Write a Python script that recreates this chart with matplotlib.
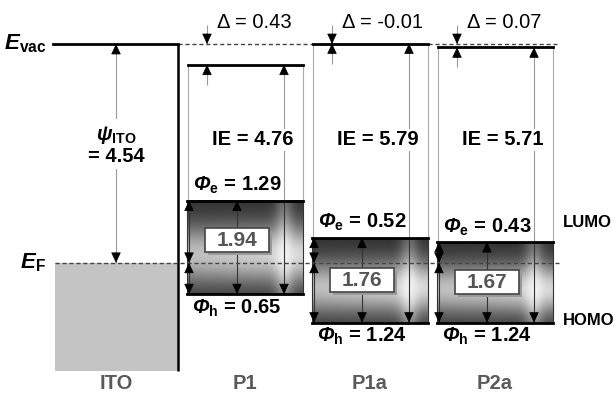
import numpy as np
import matplotlib.pyplot as plt
from matplotlib.patches import Rectangle

plt.rcParams['font.family'] = ['Liberation Sans', 'DejaVu Sans']
plt.rcParams['mathtext.fontset'] = 'custom'
plt.rcParams['mathtext.rm'] = 'Liberation Sans'
plt.rcParams['mathtext.bf'] = 'Liberation Sans:bold'
plt.rcParams['mathtext.bfit'] = 'Liberation Sans:italic:bold'

# energies in eV, vacuum level of ITO = 0
psi_ito = 4.54
materials = ['P1', 'P1a', 'P2a']
delta = [0.43, -0.01, 0.07]
ie = [4.76, 5.79, 5.71]
phi_e = [1.29, 0.52, 0.43]
phi_h = [0.65, 1.24, 1.24]
gap = [1.94, 1.76, 1.67]

EF = -psi_ito
PX = 1 / 48.2  # eV per pixel

fig = plt.figure(figsize=(6.14, 3.94), dpi=100)
ax = fig.add_axes([0, 0, 1, 1])
ax.set_xlim(0, 614)
ax.set_ylim(-350 * PX, 44 * PX)
ax.axis('off')


def head(x, y_tip, up, z=6):
    d = 10 * PX if up else -10 * PX
    ax.annotate('', xy=(x, y_tip), xytext=(x, y_tip - d),
                arrowprops=dict(arrowstyle='-|>,head_length=0.6,head_width=0.28', color='black', lw=0.5,
                                shrinkA=0, shrinkB=0, mutation_scale=11),
                zorder=z)


def vline(x, y1, y2, color, z=3, lw=0.8):
    ax.plot([x, x], [y1, y2], color=color, lw=lw, zorder=z, solid_capstyle='butt')


# ITO
ito_l, ito_r = 55, 178
ito_bot = -327 * PX
ax.add_patch(Rectangle((ito_l, ito_bot), ito_r - ito_l, EF - ito_bot, color='#c4c4c4', lw=0, zorder=1))
ax.plot([53, ito_r], [0, 0], color='black', lw=2, zorder=5)
vline(ito_r, 0, ito_bot, 'black', z=5, lw=1.8)
ax.plot([ito_r, 557], [0, 0], color='#444444', lw=1, ls=(0, (3, 2)), zorder=4)

# psi arrow
vline(116, EF, 0, '#999999', z=2)
head(116, 0, True)
head(116, EF, False)
ax.text(116, -101 * PX, r'$\mathbfit{\psi}_{\mathbf{ITO}}$' + '\n= 4.54', ha='center', va='center',
        fontsize=14.5, fontweight='bold', linespacing=1.1,
        bbox=dict(facecolor='white', edgecolor='none', pad=2), zorder=7)

# box texture: dark top/bottom, bright stripe near the right side
s = np.linspace(0, 1, 240)[None, :]
t = np.linspace(0, 1, 160)[:, None]
v = np.exp(-((t - 0.58) / 0.32) ** 2)
a = 0.18 + 0.66 * v * (0.85 + 0.15 * s)
b = 0.7 * np.exp(-((s - 0.84) / 0.08) ** 2) * (0.35 + 0.65 * v)
tex = np.clip(1 - (1 - a) * (1 - b), 0, 0.95)

box_left = [187, 312, 437]
box_w = 116

for i, name in enumerate(materials):
    x0 = box_left[i]
    vac = -delta[i]
    lumo = EF + phi_e[i]
    homo = EF - phi_h[i]
    xm = x0 + 50
    xr = x0 + 97
    xd = x0 + 20

    ax.imshow(tex, cmap='gray', vmin=0, vmax=1, extent=[x0, x0 + box_w, homo, lumo],
              aspect='auto', interpolation='bilinear', zorder=2)
    ax.add_patch(Rectangle((x0, homo), box_w, lumo - homo, fill=False, ec='#333333', lw=0.8, zorder=3))
    ax.plot([x0, x0 + box_w], [lumo, lumo], color='black', lw=2, zorder=4)
    ax.plot([x0, x0 + box_w], [homo, homo], color='black', lw=2, zorder=4)
    ax.plot([x0 + 1, x0 + box_w], [vac, vac], color='black', lw=2, zorder=5)

    # box outline above the band
    vline(x0 + 1, vac, lumo, '#aaaaaa', z=1)
    vline(x0 + box_w, vac, lumo, '#aaaaaa', z=1)

    # delta arrows
    vline(xd, 19 * PX, 0, '#999999', z=2)
    head(xd, 0, False)
    vline(xd, vac - 20 * PX, vac, '#999999', z=2)
    head(xd, vac, True)
    ax.text(xd + 10, 21 * PX, '\u0394 = %.2f' % delta[i], ha='left', va='center', fontsize=14.5)

    # IE arrow
    vline(xr, vac, lumo, '#999999', z=1)
    vline(xr, lumo, homo, '#333333', z=3)
    head(xr, vac, True)
    head(xr, homo, False)
    ax.text(x0 + 65.5, -96 * PX, 'IE = %.2f' % ie[i], ha='center', va='center', fontsize=14.5,
            fontweight='bold', bbox=dict(facecolor='white', edgecolor='none', pad=1), zorder=7)

    # phi_e / phi_h arrows
    vline(x0 + 2, lumo, homo, '#333333', z=3)
    head(x0 + 2, lumo, True)
    head(x0 + 2, EF, False)
    head(x0 + 2, EF, True)
    head(x0 + 2, homo, False)
    ax.text(xm, lumo + 15 * PX, r'$\mathbfit{\Phi}_{\mathbf{e}}$' + ' = %.2f' % phi_e[i],
            ha='center', va='center', fontsize=14.5, fontweight='bold')
    ax.text(xm, homo - 14 * PX, r'$\mathbfit{\Phi}_{\mathbf{h}}$' + ' = %.2f' % phi_h[i],
            ha='center', va='center', fontsize=14.5, fontweight='bold')

    # band gap arrow with label box
    vline(xm, lumo, homo, '#333333', z=3)
    head(xm, lumo, True)
    head(xm, homo, False)
    yc = (lumo + homo) / 2 + (7 * PX if i == 0 else 0)
    bw, bh = 64, 24 * PX
    ax.add_patch(Rectangle((xm - 32 + 3, yc - bh / 2 - 3 * PX), bw, bh, color='#9a9a9a', lw=0, zorder=6))
    ax.add_patch(Rectangle((xm - 32, yc - bh / 2), bw, bh, fc='white', ec='#444444', lw=1.2, zorder=7))
    ax.text(xm, yc, '%.2f' % gap[i], ha='center', va='center', fontsize=15, fontweight='bold',
            color='#555555', zorder=8)

    ax.text(x0 + box_w / 2, -340 * PX, name, ha='center', va='center', fontsize=14.5,
            fontweight='bold', color='#5a5a5a')

ax.plot([ito_l, 559], [EF, EF], color='#444444', lw=1, ls=(0, (3, 2)), zorder=5)
ax.text(116, -340 * PX, 'ITO', ha='center', va='center', fontsize=14.5, fontweight='bold', color='#5a5a5a')

ax.text(47, 0, r'$\mathbfit{E}_{\mathbf{vac}}$', ha='right', va='center', fontsize=16)
ax.text(46, EF, r'$\mathbfit{E}_{\mathbf{F}}$', ha='right', va='center', fontsize=16)
ax.text(563, EF + phi_e[2] + 20 * PX, 'LUMO', ha='left', va='center', fontsize=12, fontweight='bold')
ax.text(563, EF - phi_h[2] + 2 * PX, 'HOMO', ha='left', va='center', fontsize=12, fontweight='bold')

fig.savefig('out.png', dpi=100)
